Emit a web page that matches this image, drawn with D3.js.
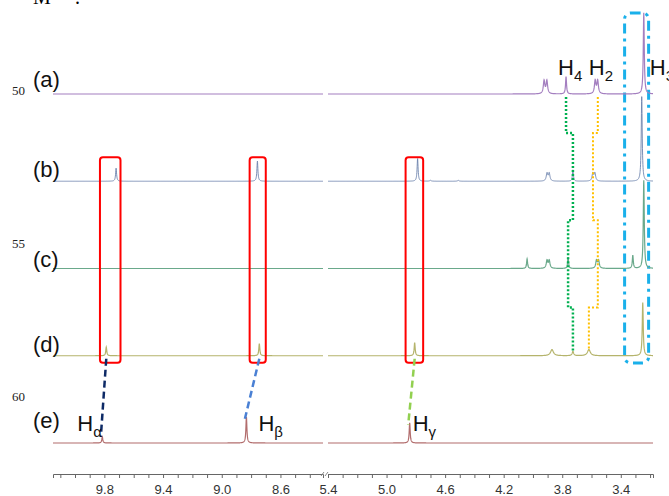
<!DOCTYPE html>
<html>
<head>
<meta charset="utf-8">
<script src="https://cdn.jsdelivr.net/npm/d3@7"></script>
<style>
  body { margin: 0; background: #fff; }
  svg { display: block; }
</style>
</head>
<body>
<div id="chart"></div>
<script>
// stacked 1H NMR spectra, top (a) to bottom (e)
const traceKeys = ["a", "b", "c", "d", "e"];
const traceLabels = ["(a)", "(b)", "(c)", "(d)", "(e)"];
const traceColors = ["#a47fc0", "#6c82ad", "#6aa98b", "#b5b46c", "#b26d6d"];

// peaks: [ppm, intensity (% of one stack step), half width (ppm)]
const peaksA = [[3.924, 15, 0.006], [3.905, 15, 0.006], [3.774, 20, 0.004], [3.575, 15, 0.006], [3.558, 15, 0.006], [3.243, 93, 0.004]];
const peaksB = [[9.720, 15, 0.004], [8.757, 23, 0.004], [4.788, 26, 0.004], [4.700, 1, 0.006], [4.510, 1, 0.006],
                [3.904, 9, 0.006], [3.889, 9, 0.006], [3.727, 13, 0.004], [3.591, 9, 0.006], [3.577, 9, 0.006], [3.257, 97, 0.004]];
const peaksC = [[4.040, 11, 0.004], [3.904, 9, 0.006], [3.889, 9, 0.006], [3.760, 13, 0.004], [3.566, 9, 0.006], [3.552, 9, 0.006],
                [3.318, 15, 0.004], [3.243, 101, 0.004]];
const peaksD = [[9.787, 10, 0.004], [8.744, 14, 0.004], [4.808, 15, 0.004], [3.870, 7, 0.012], [3.727, 5, 0.006], [3.618, 7, 0.012], [3.250, 61, 0.004]];
const peaksE = [[9.814, 7, 0.004], [8.832, 30, 0.004], [4.842, 23, 0.004]];
const allPeaks = [peaksA, peaksB, peaksC, peaksD, peaksE];

// broken x axis (ppm)
const leftDomain = [10.15, 8.31];
const rightDomain = [5.40, 3.18];
const leftTickLabels = [9.8, 9.4, 9.0, 8.6];
const rightTickLabels = [5.4, 5.0, 4.6, 4.2, 3.8, 3.4];
const leftMinor = d3.range(84, 102).map(v => v / 10);
const rightMinor = d3.range(32, 55).map(v => v / 10);

// manuscript line numbers on the left margin
const lineNumbers = [50, 55, 60];

// H4 / H2 shifts followed through (a)-(d)
const h4Shift = [3.774, 3.727, 3.760, 3.727];
const h2Shift = [3.557, 3.590, 3.557, 3.618];

// red boxes (ppm ranges) and d -> e links
const boxedRanges = [[9.83, 9.69], [8.81, 8.70], [4.87, 4.75]];
const blueBoxRange = [3.374, 3.21];
const links = [[9.787, 9.814], [8.744, 8.832], [4.808, 4.842]];
const linkColors = ["#0d2a66", "#4a80d4", "#92d050"];

const W = 669, H = 496;
const svg = d3.select("#chart").append("svg").attr("width", W).attr("height", H);

const xL = d3.scaleLinear().domain(leftDomain).range([53, 323]);
const xR = d3.scaleLinear().domain(rightDomain).range([328, 653]);
const yStack = d3.scalePoint().domain(traceKeys).range([94, 443]);
const amp = d3.scaleLinear().domain([0, 100]).range([0, 87.25]);

function spectrum(peaks, dom) {
    var pts = [];
    var n = Math.round((dom[0] - dom[1]) / 0.001);
    for (var i = 0; i <= n; i++) {
        var p = dom[0] - i * 0.001;
        var s = 0;
        peaks.forEach(function(pk) {
            var dx = p - pk[0];
            s += pk[1] * pk[2] * pk[2] / (dx * dx + pk[2] * pk[2]);
        });
        pts.push([p, s]);
    }
    return pts;
}

// top-left cut-off text
svg.append("text").attr("x", 33).attr("y", 4).style("font-family", "Liberation Serif").style("font-size", "20px").text("M");
svg.append("text").attr("x", 75).attr("y", 4).style("font-family", "Liberation Serif").style("font-size", "20px").text(".");

// line numbers
const yNum = d3.scaleLinear().domain([50, 60]).range([95, 401]);
svg.selectAll(".lnum").data(lineNumbers).enter().append("text")
    .attr("x", 12).attr("y", d => yNum(d))
    .style("font-family", "Liberation Serif").style("font-size", "13px").style("fill", "#222")
    .text(d => d);

// blue dash-dot box
svg.append("rect")
    .attr("x", xR(blueBoxRange[0])).attr("y", 13)
    .attr("width", xR(blueBoxRange[1]) - xR(blueBoxRange[0]))
    .attr("height", 350)
    .attr("rx", 6)
    .style("fill", "none").style("stroke", "#1ab0ea").style("stroke-width", 3)
    .style("stroke-dasharray", "10,5,3,5");

// spectra
traceKeys.forEach(function(k, i) {
    [[xL, leftDomain], [xR, rightDomain]].forEach(function(seg) {
        var x = seg[0];
        var line = d3.line().x(d => x(d[0])).y(d => yStack(k) - amp(d[1]));
        svg.append("path")
            .datum(spectrum(allPeaks[i], seg[1]))
            .attr("d", line)
            .style("fill", "none")
            .style("stroke", traceColors[i])
            .style("stroke-width", k == "b" ? 0.9 : 1.2);
    });
});

// trace labels
const labelNudge = [-7, -4, -2, -4, -15];
svg.selectAll(".tlab").data(traceLabels).enter().append("text")
    .attr("x", 33).attr("y", (d, i) => yStack(traceKeys[i]) + labelNudge[i])
    .style("font-family", "Liberation Sans").style("font-size", "22px").style("fill", "#111")
    .text(d => d);

// red boxes
svg.selectAll(".rbox").data(boxedRanges).enter().append("rect")
    .attr("x", d => (d[0] > 6 ? xL : xR)(d[0]))
    .attr("y", yStack("b") - 24)
    .attr("width", d => (d[0] > 6 ? xL : xR)(d[1]) - (d[0] > 6 ? xL : xR)(d[0]))
    .attr("height", yStack("d") - yStack("b") + 31)
    .attr("rx", 3)
    .style("fill", "none").style("stroke", "#f00").style("stroke-width", 2);

// dashed links from (d) to (e)
links.forEach(function(l, i) {
    var x = l[0] > 6 ? xL : xR;
    var eTop = yStack("e") - amp(peaksE[i][1]);
    svg.append("line")
        .attr("x1", x(l[0])).attr("y1", yStack("d") + 3)
        .attr("x2", x(l[1]) - 1.5).attr("y2", Math.min(eTop + 2, yStack("e") - 6))
        .style("stroke", linkColors[i]).style("stroke-width", 2.5)
        .style("stroke-dasharray", "7,4");
});

// dotted tracking paths for H4 and H2
function trackPath(shifts) {
    var pts = [[xR(shifts[0]), yStack("a") + 3]];
    for (var i = 0; i < 3; i++) {
        var yj = yStack(traceKeys[i]) + 39;
        pts.push([xR(shifts[i]), yj]);
        pts.push([xR(shifts[i + 1]), yj]);
    }
    pts.push([xR(shifts[3]), yStack("d") - 5]);
    return d3.line()(pts);
}
svg.append("path").attr("d", trackPath(h4Shift))
    .style("fill", "none").style("stroke", "#00b050").style("stroke-width", 2.5).style("stroke-dasharray", "2,2");
svg.append("path").attr("d", trackPath(h2Shift))
    .style("fill", "none").style("stroke", "#ffc000").style("stroke-width", 2).style("stroke-dasharray", "2,2");

// H annotations
function hLabel(x, y, sub) {
    var t = svg.append("text").attr("x", x).attr("y", y)
        .style("font-family", "Liberation Sans").style("font-size", "22px").style("fill", "#111");
    t.append("tspan").text("H");
    t.append("tspan").attr("dy", 6).style("font-size", "15px").text(sub);
}
hLabel(xL(9.814) - 25, 431, "α");
hLabel(xL(8.832) + 12, 431, "β");
hLabel(xR(4.842) + 3, 431, "γ");
hLabel(xR(3.774) - 8, 75, "4");
hLabel(xR(3.557) - 9, 75, "2");
hLabel(xR(3.243) + 6, 75, "3");

// axis
const axisY = 474;
function drawAxis(x, ticks, labels) {
    var g = svg.append("g").attr("transform", "translate(0," + axisY + ")")
        .call(d3.axisBottom(x).tickValues(ticks).tickSize(4).tickPadding(7)
            .tickFormat(d => labels.some(v => Math.abs(v - d) < 1e-6) ? d.toFixed(1) : ""));
    g.select(".domain").style("stroke", "#666");
    g.selectAll(".tick line").style("stroke", "#666");
    g.selectAll(".tick text").style("font-family", "Liberation Sans").style("font-size", "13px").style("fill", "#333");
}
drawAxis(xL, leftMinor, leftTickLabels);
drawAxis(xR, rightMinor, rightTickLabels);

// break marks
[321, 325].forEach(function(bx) {
    svg.append("line").attr("x1", bx).attr("y1", axisY + 2).attr("x2", bx + 3).attr("y2", axisY - 2)
        .style("stroke", "#888").style("stroke-width", 1);
});
</script>
</body>
</html>
